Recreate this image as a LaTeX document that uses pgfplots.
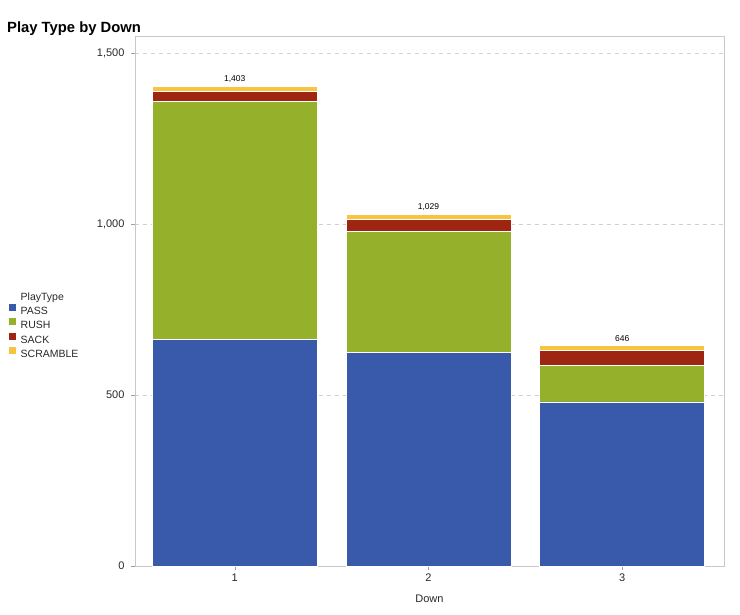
\documentclass[border=0pt]{standalone}
\usepackage{pgfplots}
\pgfplotsset{compat=1.18}
\usepackage{fontspec}
\setmainfont{Liberation Sans}
\definecolor{cpass}{RGB}{57,89,170}
\definecolor{crush}{RGB}{149,177,43}
\definecolor{csack}{RGB}{158,37,17}
\definecolor{cscr}{RGB}{246,196,63}
\definecolor{cframe}{RGB}{200,200,200}
\definecolor{cgrid}{RGB}{208,208,208}
\definecolor{ctext}{RGB}{40,40,40}
\begin{document}
\begin{tikzpicture}
\useasboundingbox (-135pt,-48pt) rectangle (605pt,566pt);
\begin{axis}[
  at={(0pt,0pt)}, anchor=south west,
  scale only axis, width=589pt, height=530pt,
  xmin=0.485, xmax=3.525, ymin=0, ymax=1551,
  ybar stacked, bar width=165pt,
  xtick={1,2,3}, ytick={0,500,1000,1500},
  xtick pos=bottom, ytick pos=left,
  tick align=outside, major tick length=4pt,
  tick style={cframe!80!black, line width=0.5pt},
  axis line style={cframe, line width=0.8pt},
  ymajorgrids, grid style={cgrid, dash pattern=on 4pt off 4pt, line width=0.7pt},
  /pgf/number format/assume math mode=true,
  /pgf/number format/1000 sep={,},
  scaled y ticks=false,
  tick label style={font=\fontsize{11}{13}\selectfont, text=ctext},
  yticklabel style={xshift=-3pt},
  xlabel={Down}, xlabel style={font=\fontsize{11}{13}\selectfont, text=ctext, yshift=-7pt},
  legend cell align=left,
  legend style={at={(-0.2139,0.517)}, anchor=north west, draw=none, fill=none,
    inner sep=0pt, row sep=1.8pt,
    nodes={inner sep=0pt, text height=8pt, text depth=2pt, font=\fontsize{10.5}{12}\selectfont, text=ctext},
    /tikz/every odd column/.append style={column sep=4.5pt}},
  legend image code/.code={\fill[#1,draw=none] (0pt,0.5pt) rectangle (7pt,7.5pt);},
  every axis plot/.append style={draw=white, line width=0.7pt},
]
\addlegendimage{empty legend}
\addlegendentry{PlayType}
\addplot[fill=cpass] coordinates {(1,662) (2,624) (3,480)};
\addlegendentry{PASS}
\addplot[fill=crush] coordinates {(1,697) (2,356) (3,106)};
\addlegendentry{RUSH}
\addplot[fill=csack] coordinates {(1,30) (2,34) (3,45)};
\addlegendentry{SACK}
\addplot[fill=cscr, nodes near coords, point meta=explicit symbolic,
  every node near coord/.append style={font=\fontsize{8.5}{10}\selectfont, text=black, anchor=south, yshift=3pt}]
  coordinates {(1,14) [1{,}403] (2,15) [1{,}029] (3,15) [646]};
\addlegendentry{SCRAMBLE}
\end{axis}
\node[anchor=base west, inner sep=0pt, font=\fontsize{14.8}{17}\selectfont\bfseries] at (-128pt,533pt) {Play Type by Down};
\end{tikzpicture}
\end{document}
